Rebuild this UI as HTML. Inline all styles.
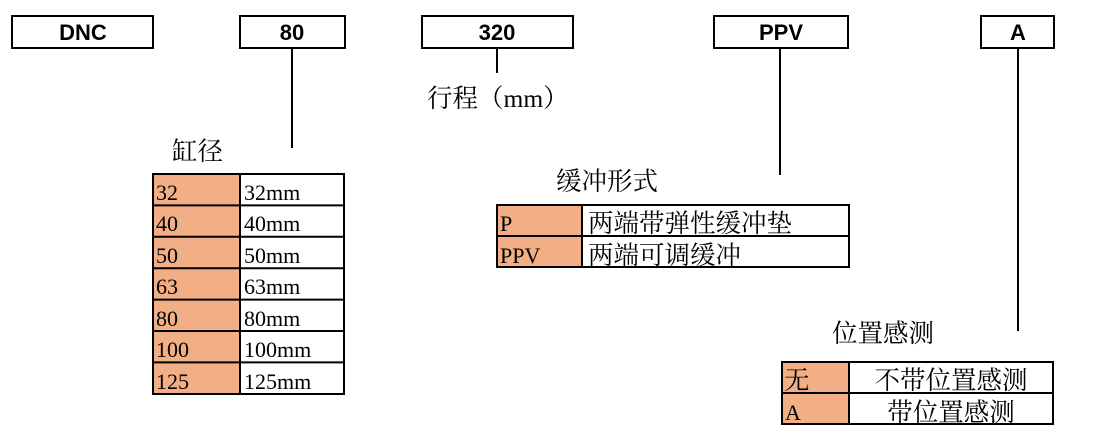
<!DOCTYPE html>
<html><head><meta charset="utf-8"><style>
html,body{margin:0;padding:0;background:#fff;}
svg{display:block;}
.b{font-family:"Liberation Sans",sans-serif;font-weight:bold;font-size:22px;}
.s{font-family:"Liberation Serif","Noto Serif CJK SC",serif;font-size:22px;}
.c{font-family:"Liberation Serif","Noto Serif CJK SC","Noto Sans CJK SC",serif;font-size:25.5px;}
</style></head><body>
<svg width="1117" height="438" xmlns="http://www.w3.org/2000/svg">
<g fill="none" stroke="#000" stroke-width="2">
<rect x="12" y="16" width="141" height="32"/>
<rect x="240" y="16" width="105" height="32"/>
<rect x="422" y="16" width="151" height="32"/>
<rect x="714" y="16" width="134" height="32"/>
<rect x="981" y="16" width="73" height="32"/>
<line x1="292" y1="48" x2="292" y2="148"/>
<line x1="497" y1="48" x2="497" y2="73"/>
<line x1="780" y1="48" x2="780" y2="175"/>
<line x1="1018" y1="48" x2="1018" y2="331"/>
</g>
<g class="b" text-anchor="middle">
<text x="83" y="40">DNC</text>
<text x="292" y="40">80</text>
<text x="497" y="40">320</text>
<text x="781" y="40">PPV</text>
<text x="1018" y="40">A</text>
</g>
<g class="c">
<text x="427" y="107">行程（mm）</text>
<text x="172" y="160">缸径</text>
<text x="556" y="190">缓冲形式</text>
<text x="832" y="342">位置感测</text>
</g>
<rect x="153" y="174" width="87" height="220" fill="#F2AE84"/>
<g stroke="#000" stroke-width="2" fill="none">
<rect x="153" y="174" width="191" height="220"/>
<line x1="240" y1="174" x2="240" y2="394"/>
<line x1="153" y1="205.4" x2="344" y2="205.4"/>
<line x1="153" y1="236.8" x2="344" y2="236.8"/>
<line x1="153" y1="268.2" x2="344" y2="268.2"/>
<line x1="153" y1="299.6" x2="344" y2="299.6"/>
<line x1="153" y1="331" x2="344" y2="331"/>
<line x1="153" y1="362.4" x2="344" y2="362.4"/>
</g>
<g class="s">
<text x="156" y="200">32</text><text x="244" y="200">32mm</text>
<text x="156" y="231">40</text><text x="244" y="231">40mm</text>
<text x="156" y="263">50</text><text x="244" y="263">50mm</text>
<text x="156" y="294">63</text><text x="244" y="294">63mm</text>
<text x="156" y="326">80</text><text x="244" y="326">80mm</text>
<text x="156" y="357">100</text><text x="244" y="357">100mm</text>
<text x="156" y="389">125</text><text x="244" y="389">125mm</text>
</g>
<rect x="497" y="205" width="85" height="62" fill="#F2AE84"/>
<g stroke="#000" stroke-width="2" fill="none">
<rect x="497" y="205" width="352" height="62"/>
<line x1="582" y1="205" x2="582" y2="267"/>
<line x1="497" y1="236" x2="849" y2="236"/>
</g>
<text class="s" x="500" y="231">P</text>
<text class="s" x="500" y="263">PPV</text>
<text class="c" x="588" y="232">两端带弹性缓冲垫</text>
<text class="c" x="588" y="264">两端可调缓冲</text>
<rect x="782" y="362" width="67" height="62" fill="#F2AE84"/>
<g stroke="#000" stroke-width="2" fill="none">
<rect x="782" y="362" width="271" height="62"/>
<line x1="849" y1="362" x2="849" y2="424"/>
<line x1="782" y1="393" x2="1053" y2="393"/>
</g>
<text class="c" x="784" y="389">无</text>
<text class="s" x="785" y="420">A</text>
<text class="c" x="951" y="389" text-anchor="middle">不带位置感测</text>
<text class="c" x="951" y="421" text-anchor="middle">带位置感测</text>
</svg>
</body></html>
